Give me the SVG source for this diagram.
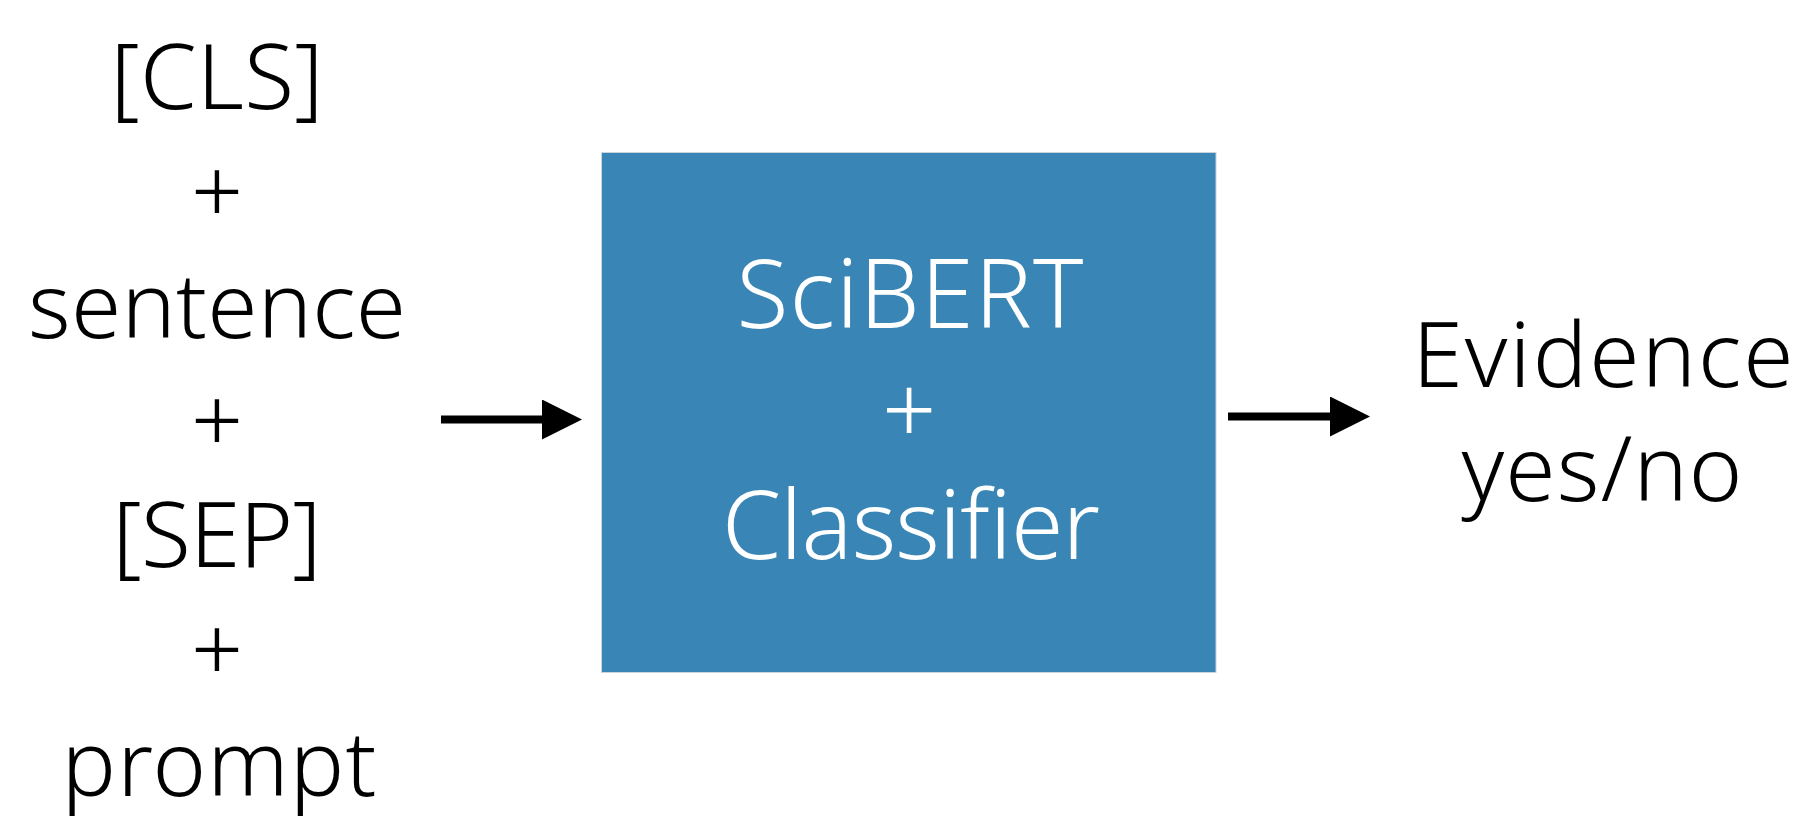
<svg xmlns="http://www.w3.org/2000/svg" width="1802" height="816" viewBox="0 0 1802 816">
<style>
.t{font-family:"Noto Sans","Liberation Sans",sans-serif;font-weight:300;font-size:91px;fill:#000;text-anchor:middle}
.w{font-family:"Noto Sans","Liberation Sans",sans-serif;font-weight:300;font-size:95px;fill:#fff;text-anchor:middle}
.c{stroke:#000;stroke-width:8;fill:none}
</style>
<defs>
<marker id="ah" markerUnits="userSpaceOnUse" markerWidth="40" markerHeight="40" refX="0" refY="20" orient="auto" viewBox="0 0 40 40">
<path d="M0,0 L40,20 L0,40 Z" fill="#000"/>
</marker>
</defs>
<rect width="1802" height="816" fill="#fff"/>
<g id="input">
<text class="t" x="217" y="109" textLength="213" lengthAdjust="spacing">[CLS]</text>
<text class="t" x="217" y="224">+</text>
<text class="t" x="217" y="338" textLength="378" lengthAdjust="spacing">sentence</text>
<text class="t" x="217" y="453">+</text>
<text class="t" x="217" y="567" textLength="209" lengthAdjust="spacing">[SEP]</text>
<text class="t" x="217" y="682">+</text>
<text class="t" x="219" y="796" textLength="315" lengthAdjust="spacing">prompt</text>
</g>
<g id="model">
<rect x="601.5" y="152.5" width="614.5" height="520" fill="#3986b6" stroke="#c9d5de" stroke-width="1"/>
<text class="w" x="910" y="328" textLength="347" lengthAdjust="spacing">SciBERT</text>
<text class="w" x="909" y="444">+</text>
<text class="w" x="911" y="559" textLength="378" lengthAdjust="spacing">Classifier</text>
</g>
<g id="output">
<text class="t" x="1603" y="387" textLength="381" lengthAdjust="spacing">Evidence</text>
<text class="t" x="1602" y="501" textLength="281" lengthAdjust="spacing">yes/no</text>
</g>
<g id="connectors">
<line class="c" x1="441" y1="419.5" x2="542" y2="419.5" marker-end="url(#ah)"/>
<line class="c" x1="1228" y1="416.5" x2="1330" y2="416.5" marker-end="url(#ah)"/>
</g>
</svg>
